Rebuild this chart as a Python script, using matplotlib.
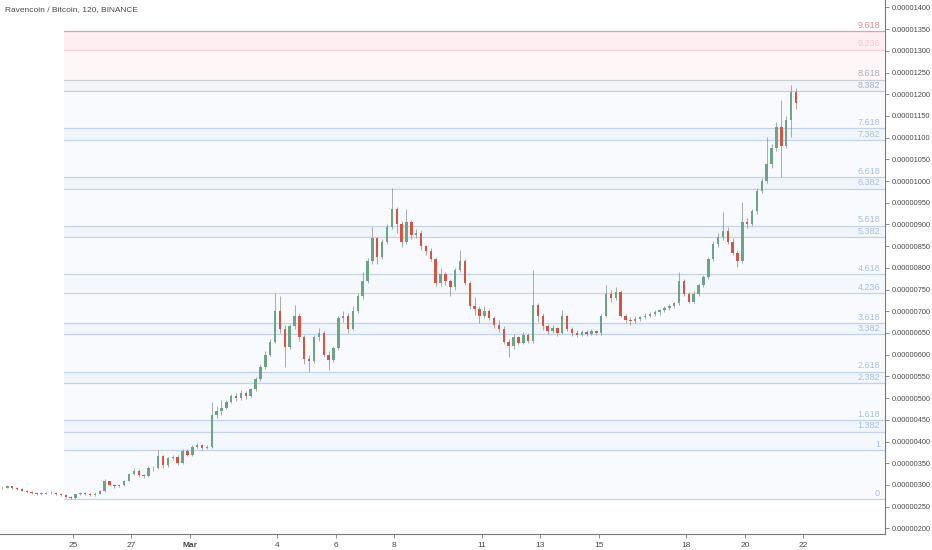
import matplotlib
matplotlib.use("Agg")
import matplotlib.pyplot as plt
import numpy as np
import pandas as pd

# 4h candles, RVN/BTC in satoshi (1e-8 BTC)
closes = [294, 297, 293,
          290, 287, 284, 281, 279, 280,
          281, 282, 279, 276, 273, 270,
          278, 281, 279, 277, 280, 285,
          308, 300, 297, 299, 310, 325,
          333, 322, 320, 340, 338, 366,
          345, 362, 365, 350, 378, 370,
          388, 392, 385, 388, 462, 470,
          478, 492, 505, 500, 512, 506,
          520, 545, 572, 600, 630, 700,
          660, 618, 665, 690, 640, 590,
          585, 640, 650, 600, 588, 615,
          684, 690, 660, 700, 735, 770,
          815, 868, 825, 860, 895, 935,
          900, 860, 905, 875, 880, 850,
          838, 820, 765, 785, 770, 755,
          795, 815, 765, 712, 705, 690,
          700, 685, 668, 660, 630, 620,
          640, 628, 645, 632, 715, 690,
          665, 655, 662, 650, 688, 660,
          650, 645, 652, 648, 655, 650,
          690, 740, 730, 745, 690, 680,
          678, 682, 686, 690, 694, 698,
          702, 708, 712, 718, 770, 740,
          722, 740, 760, 778, 820, 855,
          870, 885, 860, 835, 815, 905,
          900, 930, 978, 1000, 1040, 1075,
          1125, 1080, 1140, 1205, 1180]
highs = [297, 299, 298,
         295, 292, 289, 286, 283, 283,
         284, 285, 284, 281, 278, 275,
         280, 284, 283, 281, 283, 288,
         314, 310, 302, 302, 312, 328,
         340, 336, 325, 343, 344, 380,
         368, 365, 370, 368, 382, 382,
         391, 396, 394, 392, 490, 482,
         495, 496, 510, 512, 518, 516,
         524, 548, 578, 608, 636, 742,
         735, 668, 670, 714, 695, 645,
         600, 645, 662, 655, 608, 620,
         690, 700, 695, 712, 742, 790,
         822, 894, 872, 866, 900, 985,
         940, 908, 935, 910, 890, 887,
         852, 845, 825, 800, 790, 775,
         800, 841, 820, 770, 733, 712,
         712, 705, 690, 680, 665, 636,
         648, 644, 652, 650, 795, 720,
         695, 670, 668, 664, 703, 692,
         663, 656, 656, 656, 660, 658,
         694, 760, 748, 756, 748, 694,
         686, 688, 690, 695, 699, 703,
         706, 712, 716, 722, 790, 775,
         745, 746, 766, 784, 826, 862,
         880, 928, 895, 868, 842, 951,
         915, 936, 984, 1008, 1102, 1085,
         1136, 1187, 1150, 1221, 1214]
lows = [290, 292, 291,
        288, 285, 282, 279, 277, 277,
        278, 279, 277, 274, 271, 267,
        268, 276, 276, 275, 275, 278,
        283, 298, 294, 295, 297, 308,
        322, 318, 316, 318, 333, 336,
        340, 342, 358, 346, 348, 366,
        367, 384, 380, 382, 386, 455,
        462, 474, 488, 494, 496, 498,
        502, 516, 540, 568, 596, 626,
        650, 572, 612, 660, 632, 578,
        560, 580, 632, 595, 565, 584,
        610, 676, 651, 656, 695, 728,
        765, 810, 810, 820, 855, 890,
        880, 849, 855, 866, 868, 842,
        830, 815, 758, 758, 760, 735,
        750, 790, 760, 705, 692, 672,
        684, 680, 662, 652, 625, 595,
        612, 622, 624, 626, 628, 676,
        658, 648, 650, 644, 648, 654,
        644, 640, 642, 643, 645, 646,
        646, 686, 722, 726, 686, 674,
        669, 674, 678, 682, 686, 690,
        692, 698, 704, 708, 715, 735,
        718, 718, 736, 755, 775, 815,
        848, 865, 855, 830, 803, 812,
        892, 896, 925, 972, 995, 1030,
        1070, 1010, 1075, 1102, 1165]
first_open = 292

# Fibonacci extension levels
fib_ratios = [0, 1, 1.382, 1.618, 2.382, 2.618, 3.382, 3.618, 4.236, 4.618,
              5.382, 5.618, 6.382, 6.618, 7.382, 7.618, 8.382, 8.618, 9.236, 9.618]
fib_labels = ['0', '1', '1.382', '1.618', '2.382', '2.618', '3.382', '3.618', '4.236', '4.618',
              '5.382', '5.618', '6.382', '6.618', '7.382', '7.618', '8.382', '8.618', '9.236', '9.618']
fib_base = 267.6
fib_unit = 112.06

tick_days = [-4, -2, 0, 3, 5, 7, 10, 12, 14, 17, 19, 21]
tick_labels = ['25', '27', 'Mar', '4', '6', '8', '11', '13', '15', '18', '20', '22']
price_ticks = list(range(200, 1401, 50))

closes = np.array(closes, dtype=float)
opens = np.concatenate([[first_open], closes[:-1]])
highs = np.array(highs, dtype=float)
lows = np.array(lows, dtype=float)

dates = pd.date_range('2019-02-22 12:00', periods=len(closes), freq='4h')
x = (dates - pd.Timestamp('2019-03-01')) / pd.Timedelta(days=1) + 1 / 12

plt.rcParams['font.family'] = ['Liberation Sans', 'DejaVu Sans']

fig = plt.figure(figsize=(9.32, 5.5), dpi=100)
ax = fig.add_axes([0, 16 / 550, 885 / 932, 534 / 550])
ax.set_xlim(-6.5, 23.8)
ax.set_ylim(187, 1417)

# fib bands + lines
fib_x0, fib_x1 = -4.32, 23.75
levels = [fib_base + r * fib_unit for r in fib_ratios]
line_cols = ['#c3d3ea'] * 16 + ['#c9cdd6', '#c9cdd6', '#f2cdd3', '#e3a0aa']
text_cols = ['#a9bfdc'] * 16 + ['#a9b0bd', '#a9b0bd', '#f0c8cf', '#e08c99']
band_cols = ['#f8fafd', '#f4f8fc', '#f0f5fb', '#f8fafd', '#f0f5fb', '#f8fafd', '#f0f5fb',
             '#f8fafd', '#f4f8fc', '#f8fafd', '#f0f5fb', '#f8fafd', '#f0f5fb', '#f8fafd',
             '#f0f5fb', '#f8fafd', '#f2f4f8', '#fff6f7', '#fdeff1']
for i in range(len(levels) - 1):
    ax.fill_between([fib_x0, fib_x1], levels[i], levels[i + 1], color=band_cols[i], lw=0, zorder=0)
for lv, lab, lc, tc in zip(levels, fib_labels, line_cols, text_cols):
    ax.plot([fib_x0, fib_x1], [lv, lv], color=lc, lw=0.9, zorder=1)
    ax.text(23.63, lv + 3, lab, color=tc, fontsize=6.5, ha='right', va='bottom', zorder=2)

# candles
up = closes >= opens
body_w = 0.5 / 6
ax.vlines(x, lows, highs, color='#8a8a8c', lw=0.5, zorder=3)
bottoms = np.minimum(opens, closes)
heights = np.maximum(np.abs(closes - opens), 1.5)
ax.bar(x[up], heights[up], body_w, bottoms[up], color='#6ba583', lw=0, zorder=4)
ax.bar(x[~up], heights[~up], body_w, bottoms[~up], color='#d75442', lw=0, zorder=4)

# axes styling
for s in ['top', 'left']:
    ax.spines[s].set_visible(False)
for s in ['right', 'bottom']:
    ax.spines[s].set_color('#7a7a7a')
    ax.spines[s].set_linewidth(0.8)
ax.yaxis.tick_right()
ax.set_yticks(price_ticks)
ax.set_yticklabels(['%.8f' % (v * 1e-8) for v in price_ticks])
ax.set_xticks(tick_days)
ax.set_xticklabels(tick_labels)
ax.tick_params(axis='y', labelsize=5.3, colors='#7a7a7a', labelcolor='#4a4a4a', length=3, width=0.6, pad=2)
ax.tick_params(axis='x', labelsize=6, colors='#7a7a7a', labelcolor='#4a4a4a', length=3, width=0.6, pad=3)
ax.get_xticklabels()[2].set_fontweight('bold')
ax.set_facecolor('white')

fig.text(5 / 932, 1 - 10 / 550, 'Ravencoin / Bitcoin, 120, BINANCE', fontsize=6,
         color='#4a4a4a', ha='left', va='center')

fig.savefig('out.png', dpi=100)
